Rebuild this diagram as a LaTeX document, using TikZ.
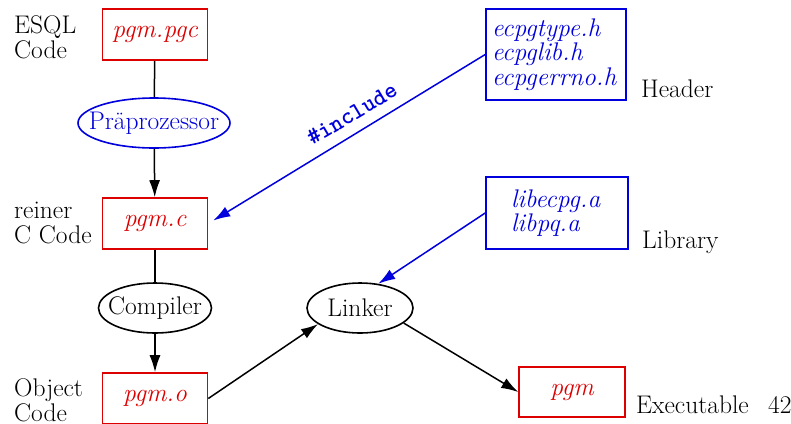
\documentclass[tikz,border=0pt]{standalone}
\usetikzlibrary{arrows.meta,shapes.geometric}
\definecolor{myred}{RGB}{220,0,0}
\definecolor{myblue}{RGB}{0,0,220}
\begin{document}
\begin{tikzpicture}[x=1bp,y=-1bp,
  font=\fontsize{25.5bp}{25bp}\selectfont,
  redbox/.style={draw=myred, line width=1.6bp, text=myred,
    font=\fontsize{25.5bp}{25bp}\selectfont\itshape,
    minimum width=105bp, minimum height=51bp, inner sep=0pt},
  bluebox/.style={draw=myblue, line width=1.6bp, text=myblue,
    font=\fontsize{25.5bp}{24.5bp}\selectfont\itshape, inner sep=0pt, align=left},
  ell/.style={ellipse, draw, line width=1.6bp, minimum height=50bp, inner sep=0pt},
  lbl/.style={anchor=base west, align=left, inner sep=0pt},
  conn/.style={line width=1.5bp},
  arr/.style={conn, -{Latex[length=17bp,width=11bp]}}
]
\useasboundingbox (0,0) rectangle (791,423);

\node[redbox] (pgc) at (155,34.5) {pgm.pgc};
\node[ell, draw=myblue, text=myblue, minimum width=152bp] (pre) at (154,123) {\makebox[0pt]{Präprozessor}};
\node[redbox] (pc) at (155,223.5) {pgm.c};
\node[ell, minimum width=113bp] (cmp) at (155,308) {\makebox[0pt]{Compiler}};
\node[redbox] (po) at (155,398.5) {pgm.o};
\node[ell, minimum width=106bp] (lk) at (360,308) {\makebox[0pt]{Linker}};
\node[redbox, minimum width=106bp, minimum height=50bp] (pg) at (572,392) {pgm};

\node[bluebox, minimum width=140bp, minimum height=91bp, text width=128bp] (hd) at (556,54.5) {ecpgtype.h\\ecpglib.h\\ecpgerrno.h};
\node[bluebox, minimum width=142bp, minimum height=72bp, text width=92bp] (lib) at (557,213) {libecpg.a\\libpq.a};

\node[lbl] (t1) at (14,58) {ESQL\\Code};
\node[lbl] (t2) at (14,243) {reiner\\C Code};
\node[lbl] (t3) at (14,421) {Object\\Code};
\node[lbl] (t4) at (641,97) {Header};
\node[lbl] (t5) at (642,248) {Library};
\node[lbl] (t6) at (636,413) {Executable};
\node[lbl] (t7) at (768,413) {42};

\draw[conn] (pgc) -- (pre);
\draw[arr] (pre) -- (pc);
\draw[conn] (pc) -- (cmp);
\draw[arr] (cmp) -- (po);
\draw[arr] (po.east) -- (lk.201);
\draw[arr] (lk.341) -- (pg.west);
\draw[arr, draw=myblue, fill=myblue] (lib.west) -- (lk.53);
\draw[arr, draw=myblue, fill=myblue] (hd.west) -- ([xshift=5bp,yshift=3bp]pc.east);
\node[rotate=30.7, text=myblue, font=\fontsize{24bp}{24bp}\selectfont\ttfamily\bfseries] (inc) at (352,114) {\#include};
\end{tikzpicture}
\end{document}
